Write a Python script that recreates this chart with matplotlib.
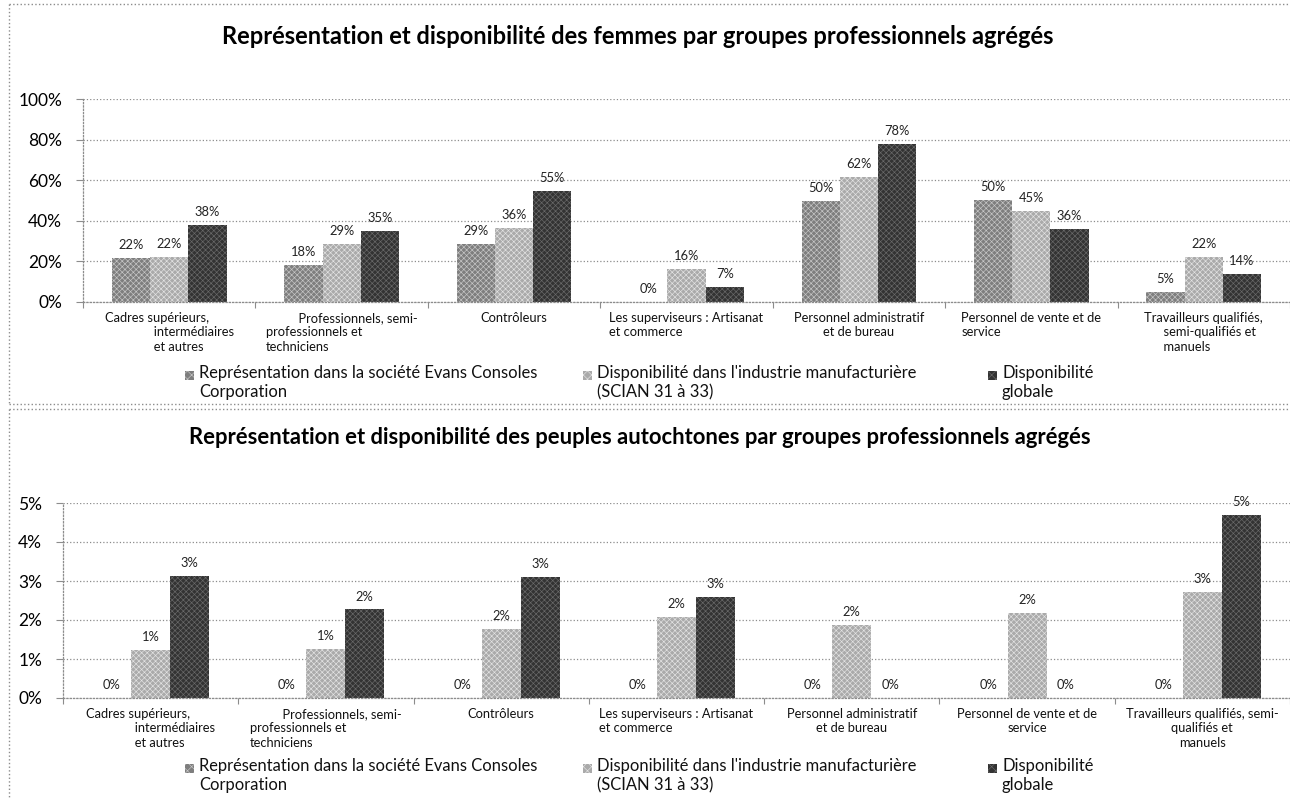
import matplotlib
matplotlib.use("Agg")
import matplotlib.pyplot as plt
from matplotlib.lines import Line2D
from matplotlib.patches import Rectangle
from matplotlib.ticker import PercentFormatter, FixedLocator
import numpy as np

plt.rcParams['font.family'] = ['Lato', 'DejaVu Sans']
plt.rcParams['hatch.linewidth'] = 0.45

# --- data -------------------------------------------------------------
series_names = [
    "Représentation dans la société Evans Consoles\nCorporation",
    "Disponibilité dans l'industrie manufacturière\n(SCIAN 31 à 33)",
    "Disponibilité\nglobale",
]

title_femmes = "Représentation et disponibilité des femmes par groupes professionnels agrégés"
title_autochtones = "Représentation et disponibilité des peuples autochtones par groupes professionnels agrégés"

categories_femmes = [
    "Cadres supérieurs,\n               intermédiaires\n               et autres",
    "          Professionnels, semi-\nprofessionnels et\ntechniciens",
    "Contrôleurs",
    "Les superviseurs : Artisanat\net commerce",
    "Personnel administratif\net de bureau",
    "Personnel de vente et de\nservice",
    "Travailleurs qualifiés,\n      semi-qualifiés et\n      manuels",
]
categories_autochtones = [
    "Cadres supérieurs,\n               intermédiaires\n               et autres",
    "          Professionnels, semi-\nprofessionnels et\ntechniciens",
    "Contrôleurs",
    "Les superviseurs : Artisanat\net commerce",
    "Personnel administratif\net de bureau",
    "Personnel de vente et de\nservice",
    "Travailleurs qualifiés, semi-\nqualifiés et\nmanuels",
]

femmes_societe = [21.8, 18.2, 28.6, 0.0, 50.0, 50.2, 4.8]
femmes_industrie = [22.4, 28.6, 36.4, 16.2, 61.8, 45.0, 22.0]
femmes_globale = [37.8, 35.2, 54.8, 7.2, 77.9, 35.8, 13.8]

autochtones_societe = [0.0, 0.0, 0.0, 0.0, 0.0, 0.0, 0.0]
autochtones_industrie = [1.22, 1.25, 1.77, 2.07, 1.87, 2.18, 2.72]
autochtones_globale = [3.12, 2.27, 3.10, 2.60, 0.0, 0.0, 4.70]

# --- style --------------------------------------------------------------
bar_styles = [
    dict(color='#7e7e7e', edgecolor='#c8c8c8', hatch='xxxxxx'),
    dict(color='#aaaaaa', edgecolor='#e4e4e4', hatch='xxxxxx'),
    dict(color='#333333', edgecolor='#6a6a6a', hatch='xxxxxx'),
]
aligns_femmes = ['left', 'left', 'center', 'left', 'center', 'left', 'left']
aligns_autochtones = ['left', 'left', 'center', 'left', 'center', 'center', 'center']
grid_col = '#8c8c8c'

W, H = 1290, 798
fig = plt.figure(figsize=(W / 100, H / 100), dpi=100)


def fx(px):
    return px / W


def fy(py):
    return 1 - py / H


def draw_panel(ax, series, labels, aligns, ymax, ystep):
    x = np.arange(len(labels))
    width = 0.222
    for i, vals in enumerate(series):
        bars = ax.bar(x + (i - 1) * width, vals, width, linewidth=0, **bar_styles[i])
        for b, v in zip(bars, vals):
            ax.annotate(f"{v:.0f}%", (b.get_x() + b.get_width() / 2, v),
                        xytext=(0, 5), textcoords='offset points',
                        ha='center', va='bottom', fontsize=9.3, color='#222222')
    ax.set_xlim(-0.5, len(labels) - 0.5)
    ax.set_ylim(0, ymax)
    ax.yaxis.set_major_locator(FixedLocator(np.arange(0, ymax + ystep / 2, ystep)))
    ax.yaxis.set_major_formatter(PercentFormatter(decimals=0))
    ax.grid(axis='y', linestyle=':', color=grid_col, linewidth=0.9)
    ax.set_axisbelow(True)
    for s in ['top', 'right']:
        ax.spines[s].set_visible(False)
    for s in ['left', 'bottom']:
        ax.spines[s].set_linestyle(':')
        ax.spines[s].set_color(grid_col)
        ax.spines[s].set_linewidth(0.9)
    ax.set_xticks(np.arange(len(labels) + 1) - 0.5)
    ax.set_xticklabels([])
    ax.tick_params(axis='x', length=4, color=grid_col, width=0.8)
    ax.tick_params(axis='y', length=5, color=grid_col, width=0.8, labelsize=12.5, pad=10)
    for xi, lab, al in zip(x, labels, aligns):
        ax.annotate(lab, (xi, 0), xycoords=('data', 'axes fraction'),
                    xytext=(0, -7), textcoords='offset points',
                    ha='center', va='top', multialignment=al,
                    fontsize=9.3, color='#111111', linespacing=1.25)


def draw_legend(y_line1):
    marker_x = [185, 583, 988]
    for i, name in enumerate(series_names):
        st = bar_styles[i]
        fig.add_artist(Rectangle((fx(marker_x[i]), fy(y_line1 + 5)), fx(9), 9 / H,
                                 facecolor=st['color'], edgecolor=st['edgecolor'],
                                 hatch='xxxx', linewidth=0, transform=fig.transFigure))
        fig.text(fx(marker_x[i] + 14), fy(y_line1 - 10), name, fontsize=11.9,
                 ha='left', va='top', linespacing=1.25, color='#111111')


# top panel
ax1 = fig.add_axes([fx(83), fy(302), fx(1290 - 83), (302 - 99) / H])
draw_panel(ax1, [femmes_societe, femmes_industrie, femmes_globale],
           categories_femmes, aligns_femmes, 100, 20)
fig.text(fx(638), fy(37), title_femmes, ha='center', va='center',
         fontsize=17, fontweight='bold')
draw_legend(375)

# bottom panel
ax2 = fig.add_axes([fx(63), fy(698), fx(1290 - 63), (698 - 503) / H])
draw_panel(ax2, [autochtones_societe, autochtones_industrie, autochtones_globale],
           categories_autochtones, aligns_autochtones, 5, 1)
fig.text(fx(640), fy(437), title_autochtones, ha='center', va='center',
         fontsize=15.8, fontweight='bold')
draw_legend(768)

# dotted chart borders
border = dict(color='#8c8c8c', linestyle=':', linewidth=1.0, transform=fig.transFigure)
fig.add_artist(Line2D([fx(9), 1], [fy(4), fy(4)], **border))
fig.add_artist(Line2D([fx(9), fx(9)], [fy(4), fy(404)], **border))
fig.add_artist(Line2D([fx(9), 1], [fy(404), fy(404)], **border))
fig.add_artist(Line2D([fx(9), 1], [fy(409), fy(409)], **border))
fig.add_artist(Line2D([fx(9), fx(9)], [fy(409), 0], **border))

fig.savefig("out.png", dpi=100)
